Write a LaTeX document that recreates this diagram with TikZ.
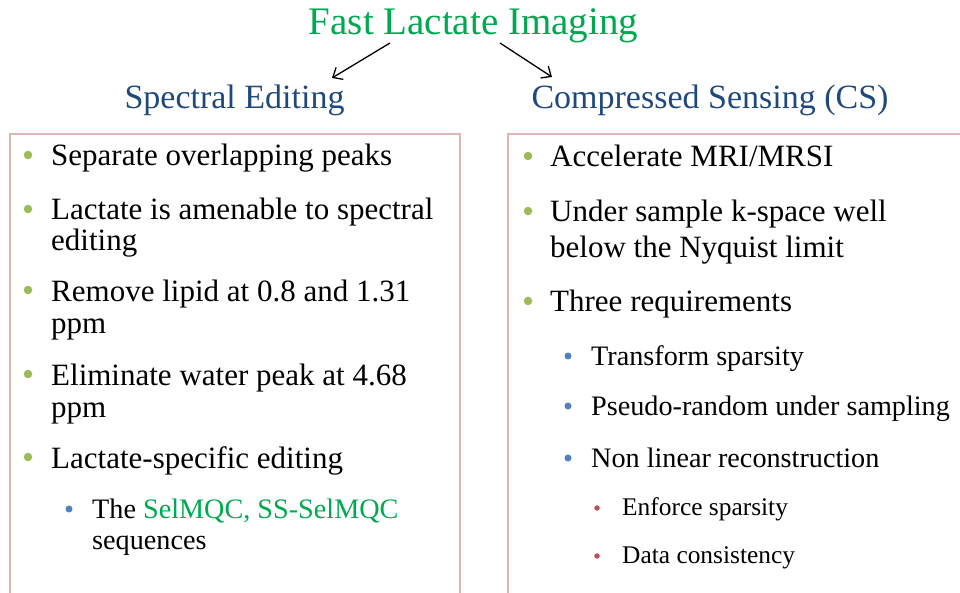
\documentclass[tikz,border=0pt]{standalone}
\usepackage{fontspec}
\setmainfont{Liberation Serif}
\usetikzlibrary{arrows.meta}
\definecolor{titlegreen}{RGB}{0,168,80}
\definecolor{headblue}{RGB}{31,73,125}
\definecolor{bulgreen}{RGB}{155,187,89}
\definecolor{bulblue}{RGB}{79,129,189}
\definecolor{bulred}{RGB}{192,80,77}
\definecolor{boxedge}{RGB}{218,185,180}
\begin{document}
\begin{tikzpicture}[x=1pt,y=-1pt,
  titletext/.style={font=\fontsize{39}{46}\selectfont, text=titlegreen, inner sep=0pt, anchor=base},
  headtext/.style={font=\fontsize{34}{40}\selectfont, text=headblue, inner sep=0pt, anchor=base},
  panel/.style={draw=boxedge, line width=1.8pt},
  itemA/.style={font=\fontsize{31}{31.5}\selectfont, inner sep=0pt, anchor=base west, align=left},
  itemAwide/.style={font=\fontsize{31}{35.5}\selectfont, inner sep=0pt, anchor=base west, align=left},
  itemB/.style={font=\fontsize{28.2}{31}\selectfont, inner sep=0pt, anchor=base west, align=left},
  itemC/.style={font=\fontsize{25.4}{28}\selectfont, inner sep=0pt, anchor=base west},
  dotA/.style={circle, fill=bulgreen, inner sep=0pt, minimum size=8.5pt},
  dotB/.style={circle, fill=bulblue, inner sep=0pt, minimum size=7pt},
  dotC/.style={circle, fill=bulred, inner sep=0pt, minimum size=5.5pt},
  link/.style={-{Straight Barb[length=8pt,width=14pt]}, line width=1.3pt}
]
\useasboundingbox (0,0) rectangle (960,593);
\clip (0,0) rectangle (960,593);

% title and headings
\node[titletext] (title) at (473.5,35) {Fast Lactate Imaging};
\node[headtext] (headL) at (234.5,109) {Spectral Editing};
\node[headtext] (headR) at (710,109) {Compressed Sensing (CS)};

\coordinate (tL) at (390,43);
\coordinate (hL) at (332,78);
\coordinate (tR) at (500,43);
\coordinate (hR) at (552,77);
\draw[link] (tL) -- (hL);
\draw[link] (tR) -- (hR);

% panels
\draw[panel] (10,134) rectangle (460,620);
\draw[panel] (508,134) rectangle (980,620);

% left panel (multi-line nodes are placed at the baseline of their last line)
\node[dotA] (bs1) at (28,155) {};
\node[itemA] (s1) at (51,166) {Separate overlapping peaks};
\node[dotA] (bs2) at (28,209) {};
\node[itemA] (s2) at (51,251) {Lactate is amenable to spectral\\editing};
\node[dotA] (bs3) at (28,290) {};
\node[itemA] (s3) at (51,333) {Remove lipid at 0.8 and 1.31\\ppm};
\node[dotA] (bs4) at (28,374) {};
\node[itemA] (s4) at (51,417) {Eliminate water peak at 4.68\\ppm};
\node[dotA] (bs5) at (28,457) {};
\node[itemA] (s5) at (51,468) {Lactate-specific editing};
\node[dotB] (bs6) at (69,509) {};
\node[itemB] (s6) at (92,549) {The \textcolor{titlegreen}{SelMQC, SS-SelMQC}\\sequences};

% right panel
\node[dotA] (bc1) at (528,156) {};
\node[itemA] (c1) at (550,167) {Accelerate MRI/MRSI};
\node[dotA] (bc2) at (528,211) {};
\node[itemAwide] (c2) at (550,257.5) {Under sample k-space well\\below the Nyquist limit};
\node[dotA] (bc3) at (528,301) {};
\node[itemA] (c3) at (550,312) {Three requirements};
\node[dotB] (bc4) at (568,356) {};
\node[itemB] (c4) at (591,365) {Transform sparsity};
\node[dotB] (bc5) at (568,406) {};
\node[itemB] (c5) at (591,415) {Pseudo-random under sampling};
\node[dotB] (bc6) at (568,458) {};
\node[itemB] (c6) at (591,467) {Non linear reconstruction};
\node[dotC] (bc7) at (597,508) {};
\node[itemC] (c7) at (622,515) {Enforce sparsity};
\node[dotC] (bc8) at (597,556) {};
\node[itemC] (c8) at (622,563) {Data consistency};
\end{tikzpicture}
\end{document}
